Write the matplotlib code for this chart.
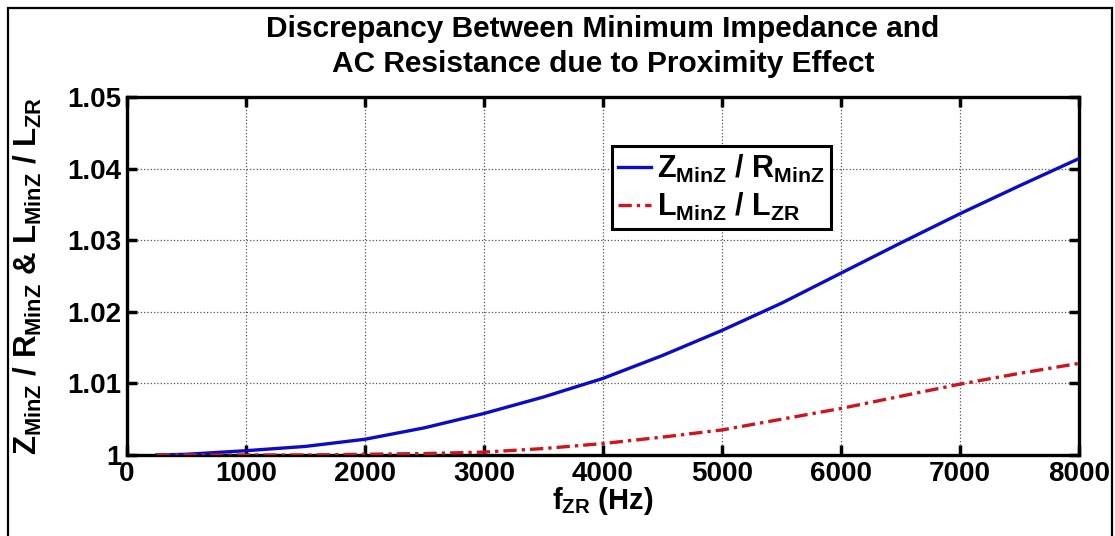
import numpy as np
import matplotlib
matplotlib.use('Agg')
import matplotlib.pyplot as plt
from matplotlib.patches import Rectangle

plt.rcParams['font.family'] = ['Liberation Sans', 'DejaVu Sans']
plt.rcParams['font.weight'] = 'bold'
plt.rcParams['axes.labelweight'] = 'bold'
plt.rcParams['mathtext.fontset'] = 'custom'
plt.rcParams['mathtext.rm'] = 'Liberation Sans:bold'
plt.rcParams['mathtext.it'] = 'Liberation Sans:bold'
plt.rcParams['mathtext.bf'] = 'Liberation Sans:bold'
plt.rcParams['mathtext.sf'] = 'Liberation Sans:bold'

# values
f_zr = [250, 500, 1000, 1500, 2000, 2500, 3000, 3500, 4000, 4500,
        5000, 5500, 6000, 6500, 7000, 7500, 8000]
z_over_r = [1.0000, 1.0001, 1.0006, 1.0012, 1.0022, 1.0038, 1.0058, 1.0081,
            1.0107, 1.0139, 1.0174, 1.0212, 1.0254, 1.0296, 1.0337, 1.0376, 1.0414]
l_over_l = [1.0000, 1.0000, 1.0000, 1.0000, 1.0001, 1.0002, 1.0004, 1.0009,
            1.0016, 1.0025, 1.0035, 1.0050, 1.0065, 1.0082, 1.0099, 1.0114, 1.0128]
xticks = [0, 1000, 2000, 3000, 4000, 5000, 6000, 7000, 8000]
yticks = [1.00, 1.01, 1.02, 1.03, 1.04, 1.05]
ytick_labels = ['1', '1.01', '1.02', '1.03', '1.04', '1.05']

fig = plt.figure(figsize=(11.15, 5.36), dpi=100)
ax1 = fig.add_axes([127/1115, 1 - 455/536, (1079-127)/1115, (455-97)/536])

ax1.plot(f_zr, z_over_r, color='#0c0cc4', lw=2.4, zorder=3,
         label=r'$Z_{MinZ}$ / $R_{MinZ}$')
ax1.plot(f_zr, l_over_l, color='#d0141e', lw=2.4, ls=(0, (4, 1.5, 1, 1.5)), zorder=3,
         label=r'$L_{MinZ}$ / $L_{ZR}$')

ax1.set_xlim(0, 8000)
ax1.set_ylim(1.0, 1.05)
ax1.set_xticks(xticks)
ax1.set_xticklabels([str(v) for v in xticks])
ax1.set_yticks(yticks)
ax1.set_yticklabels(ytick_labels)
ax1.tick_params(direction='in', top=True, right=True, length=7, width=2.5,
                labelsize=20, pad=4)
for s in ax1.spines.values():
    s.set_linewidth(2.4)
ax1.grid(True, ls=':', color='#555555', lw=0.9)

ax1.set_title('Discrepancy Between Minimum Impedance and\nAC Resistance due to Proximity Effect',
              fontsize=21.5, fontweight='bold', pad=18, linespacing=1.3)
ax1.set_xlabel(r'$f_{ZR}$ (Hz)', fontsize=21, fontweight='bold', labelpad=-1)
ax1.set_ylabel(r'$Z_{MinZ}$ / $R_{MinZ}$ & $L_{MinZ}$ / $L_{ZR}$', fontsize=22.5,
               fontweight='bold')
ax1.yaxis.set_label_coords(-0.087, 0.5)

leg = ax1.legend(loc='upper left', bbox_to_anchor=(0.509, 0.862), borderaxespad=0,
                 fontsize=22, fancybox=False, framealpha=1, handlelength=1.1,
                 handletextpad=0.2, borderpad=0.2, labelspacing=0.2)
leg.get_frame().set_edgecolor('black')
leg.get_frame().set_linewidth(2.2)

fig.patches.append(Rectangle((8/1115, -0.02), (1112-8)/1115, 1.02 - 8/536,
                             transform=fig.transFigure, fill=False,
                             edgecolor='black', lw=1.6))

plt.savefig('out.png', dpi=100)
